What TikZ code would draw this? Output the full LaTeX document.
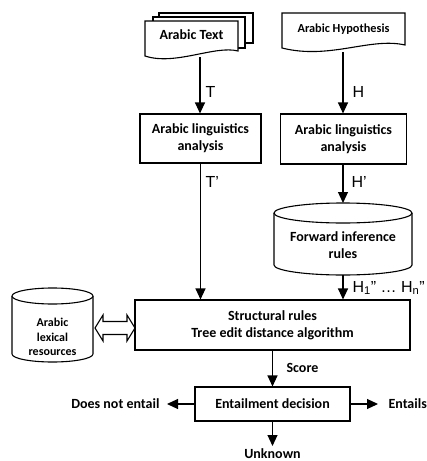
\documentclass[tikz,border=0pt]{standalone}
\usepackage{fontspec}
\setmainfont{Carlito}
\newfontfamily\arialfont{Liberation Sans}
\usetikzlibrary{arrows.meta}
\begin{document}
\begin{tikzpicture}[x=1pt,y=-1pt,
  line width=1.1pt,
  arr/.style={-{Triangle[length=11pt,width=10pt]}},
  box/.style={draw, fill=white, align=center, font=\fontsize{14}{17}\selectfont\bfseries, inner sep=0pt},
  lbl/.style={font=\fontsize{14}{17}\selectfont\bfseries, inner sep=0pt, align=center},
  sym/.style={font=\arialfont\fontsize{16}{18}\selectfont, inner sep=0pt, anchor=west},
  docshape/.style={draw, fill=white},
  cyl/.style={draw, fill=white},
]
\useasboundingbox (0,0) rectangle (427,461);

% Arabic Text (multi-document)
\draw[docshape] (159,13) -- (253,13) -- (253,43) -- (159,43) -- cycle;
\draw[docshape] (153,17) -- (245,17) -- (245,48) -- (153,48) -- cycle;
\draw[docshape] (145,21) -- (238,21) -- (238,51) .. controls (215,45) and (175,66) .. (145,56) -- cycle;
\node[lbl] (atext) at (191.5,35) {Arabic Text};
\coordinate (atbot) at (200,57);

% Arabic Hypothesis (document)
\draw[docshape] (282,13) -- (405,13) -- (405,45) .. controls (370,37) and (330,60) .. (282,48) -- cycle;
\node[lbl, font=\fontsize{12.3}{15}\selectfont\bfseries] (ahyp) at (343.5,29) {Arabic Hypothesis};
\coordinate (ahbot) at (343,52);

% linguistic analysis boxes
\node[box, minimum width=121pt, minimum height=49pt] (linT) at (200.5,138.5) {Arabic linguistics\\analysis};
\node[box, minimum width=126pt, minimum height=50pt] (linH) at (343.5,139) {Arabic linguistics\\analysis};

% Forward inference rules cylinder
\draw[cyl] (274,213) -- (274,265) arc[start angle=180, end angle=360, x radius=69, y radius=-10] -- (412,213);
\draw[cyl] (343,213) ellipse[x radius=69, y radius=10];
\node[lbl] (fir) at (343,245) {Forward inference\\rules};
\coordinate (firtop) at (343,203);
\coordinate (firbot) at (343,275);

% Arabic lexical resources cylinder
\draw[cyl] (12,296) -- (12,354) arc[start angle=180, end angle=360, x radius=40.5, y radius=-8] -- (93,296);
\draw[cyl] (52.5,296) ellipse[x radius=40.5, y radius=8];
\node[lbl, font=\fontsize{12}{14.5}\selectfont\bfseries] (lex) at (52.5,337) {Arabic\\lexical\\resources};

% structural box
\node[box, minimum width=275pt, minimum height=50pt] (struct) at (272.5,325) {Structural rules\\Tree edit distance algorithm};

% double hollow arrow
\draw[fill=white] (95,328) -- (103,315) -- (103,321.5) -- (127,321.5) -- (127,315) -- (135,328)
  -- (127,341) -- (127,334.5) -- (103,334.5) -- (103,341) -- cycle;

% entailment decision
\node[box, minimum width=155pt, minimum height=34pt] (ent) at (272.5,404) {Entailment decision};
\node[lbl, anchor=east] (dne) at (160,404) {Does not entail};
\node[lbl, anchor=west] (ents) at (388,404) {Entails};
\node[lbl, anchor=base] (unk) at (272.5,458) {Unknown};
\coordinate (lefttip) at (167,404);
\coordinate (righttip) at (378,404);
\coordinate (downtip) at (272.5,446);

% connectors
\draw[arr] (atbot) -- (linT.north -| atbot);
\draw[arr] (ahbot) -- (linH.north -| ahbot);
\draw[arr] (linT.south) -- (struct.north -| linT.south);
\draw[arr] (linH.south -| firtop) -- (firtop);
\draw[arr] (firbot) -- (struct.north -| firbot);
\draw[arr] (struct.south -| ent.north) -- (ent.north);
\draw[arr] (ent.west) -- (lefttip);
\draw[arr] (ent.east) -- (righttip);
\draw[arr] (ent.south) -- (downtip);

% labels
\node[sym] (lT) at (205,92) {T};
\node[sym] (lH) at (352,92) {H};
\node[sym] (lTp) at (205,182) {T’};
\node[sym] (lHp) at (351,182) {H’};
\node[sym] (lHpp) at (352,288) {H\textsubscript{1}” … H\textsubscript{n}”};
\node[lbl, anchor=west] (score) at (286,368) {Score};
\end{tikzpicture}
\end{document}
